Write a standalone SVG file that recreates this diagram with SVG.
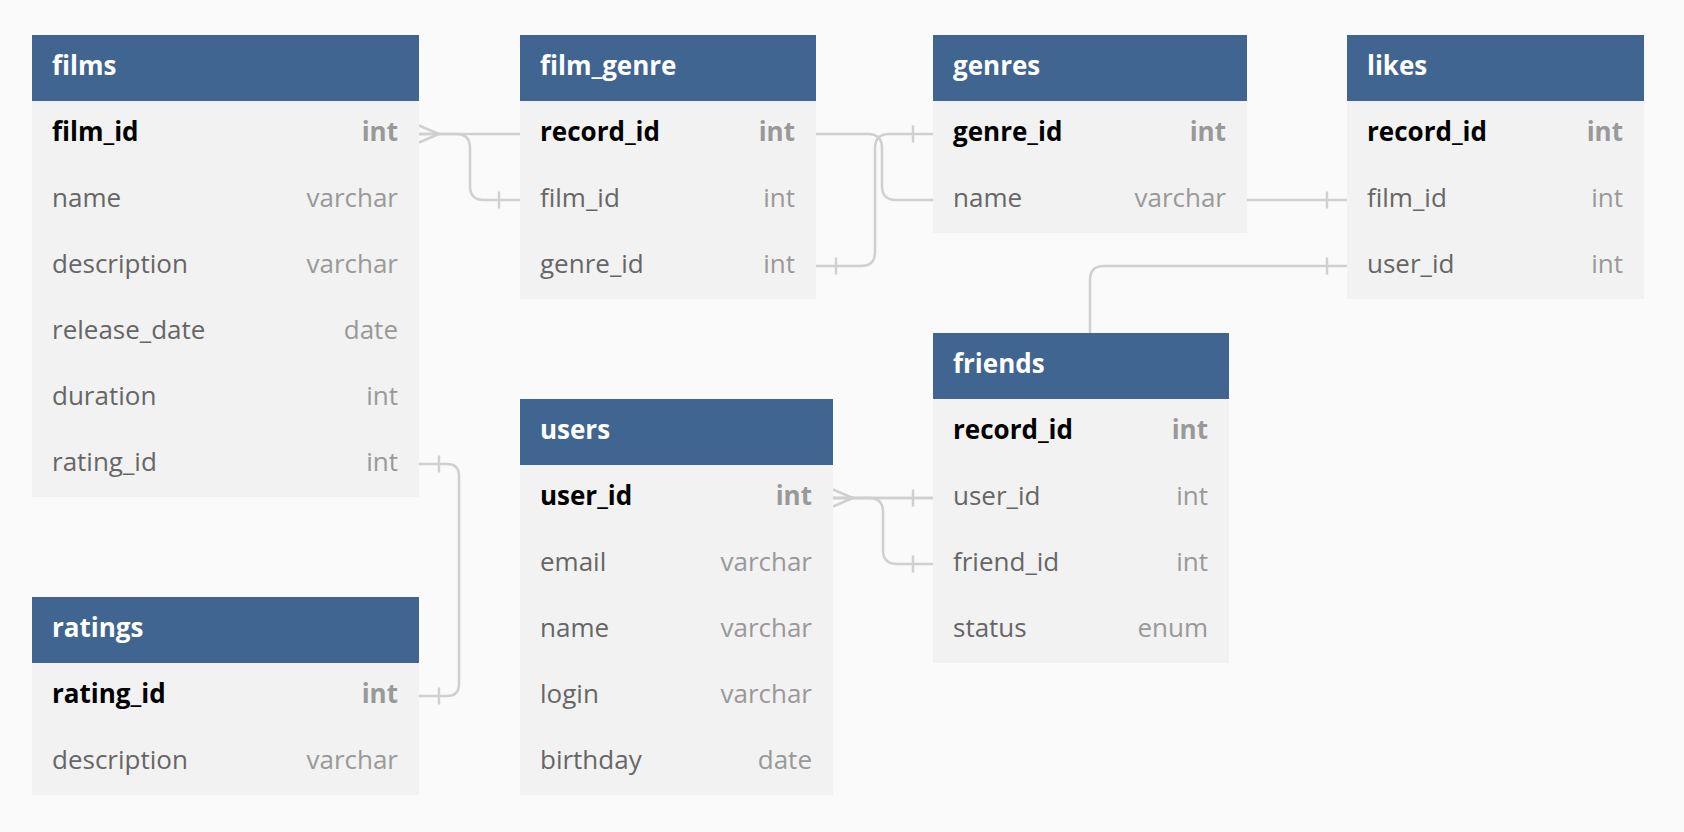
<svg xmlns="http://www.w3.org/2000/svg" width="1684" height="832" viewBox="0 0 1684 832">
<style>
.bg{fill:#FAFAFA}
.hd{fill:#3F6590}
.bd{fill:#F2F2F2}
text{font-family:"Open Sans","Liberation Sans",sans-serif;font-size:26px}
.tt{fill:#FFFFFF;font-weight:700}
.pk{fill:#000000;font-weight:700}
.pt{fill:#999999;font-weight:700;text-anchor:end}
.fn{fill:#666666}
.ft{fill:#999999;text-anchor:end}
.ln{fill:none;stroke:#D0D0D0;stroke-width:2.5}
</style>
<rect class="bg" x="0" y="0" width="1684" height="832"/>
<g id="connectors" class="ln">
  <!-- films.film_id -> film_genre.film_id -->
  <path d="M419,134 H456 Q470,134 470,148 V186 Q470,200 484,200 H520"/>
  <path d="M499,191.5 V208.5"/>
  <!-- films.film_id crow -->
  <path d="M419,125.5 L439,134 L419,142.5"/>
  <!-- films.film_id -> likes.film_id -->
  <path d="M419,134 H868 Q882,134 882,148 V186 Q882,200 896,200 H1347"/>
  <path d="M1327,191.5 V208.5"/>
  <!-- film_genre.genre_id -> genres.genre_id -->
  <path d="M816,266 H861 Q875,266 875,252 V148 Q875,134 889,134 H933"/>
  <path d="M836,257.5 V274.5"/>
  <path d="M913,125.5 V142.5"/>
  <!-- films.rating_id -> ratings.rating_id -->
  <path d="M419,464 H447 Q459,464 459,476 V684 Q459,696 447,696 H419"/>
  <path d="M439,455.5 V472.5"/>
  <path d="M439,687.5 V704.5"/>
  <!-- users.user_id -> friends.user_id -->
  <path d="M833,498 H933"/>
  <path d="M833,489.5 L853,498 L833,506.5"/>
  <path d="M913,489.5 V506.5"/>
  <!-- users.user_id -> friends.friend_id -->
  <path d="M833,498 H869 Q883,498 883,512 V550 Q883,564 897,564 H933"/>
  <path d="M913,555.5 V572.5"/>
  <!-- likes.user_id -> users.user_id -->
  <path d="M1347,266 H1104 Q1090,266 1090,280 V486 Q1090,498 1078,498 H833"/>
  <path d="M1327,257.5 V274.5"/>
</g>
<g id="films">
  <rect class="hd" x="32" y="35" width="387" height="66"/>
  <rect class="bd" x="32" y="101" width="387" height="396"/>
  <text class="tt" x="52" y="75">films</text>
  <text class="pk" x="52" y="141">film_id</text><text class="pt" x="398" y="141">int</text>
  <text class="fn" x="52" y="207">name</text><text class="ft" x="398" y="207">varchar</text>
  <text class="fn" x="52" y="273">description</text><text class="ft" x="398" y="273">varchar</text>
  <text class="fn" x="52" y="339">release_date</text><text class="ft" x="398" y="339">date</text>
  <text class="fn" x="52" y="405">duration</text><text class="ft" x="398" y="405">int</text>
  <text class="fn" x="52" y="471">rating_id</text><text class="ft" x="398" y="471">int</text>
</g>
<g id="ratings">
  <rect class="hd" x="32" y="597" width="387" height="66"/>
  <rect class="bd" x="32" y="663" width="387" height="132"/>
  <text class="tt" x="52" y="637">ratings</text>
  <text class="pk" x="52" y="703">rating_id</text><text class="pt" x="398" y="703">int</text>
  <text class="fn" x="52" y="769">description</text><text class="ft" x="398" y="769">varchar</text>
</g>
<g id="film_genre">
  <rect class="hd" x="520" y="35" width="296" height="66"/>
  <rect class="bd" x="520" y="101" width="296" height="198"/>
  <text class="tt" x="540" y="75">film_genre</text>
  <text class="pk" x="540" y="141">record_id</text><text class="pt" x="795" y="141">int</text>
  <text class="fn" x="540" y="207">film_id</text><text class="ft" x="795" y="207">int</text>
  <text class="fn" x="540" y="273">genre_id</text><text class="ft" x="795" y="273">int</text>
</g>
<g id="genres">
  <rect class="hd" x="933" y="35" width="314" height="66"/>
  <rect class="bd" x="933" y="101" width="314" height="132"/>
  <text class="tt" x="953" y="75">genres</text>
  <text class="pk" x="953" y="141">genre_id</text><text class="pt" x="1226" y="141">int</text>
  <text class="fn" x="953" y="207">name</text><text class="ft" x="1226" y="207">varchar</text>
</g>
<g id="likes">
  <rect class="hd" x="1347" y="35" width="297" height="66"/>
  <rect class="bd" x="1347" y="101" width="297" height="198"/>
  <text class="tt" x="1367" y="75">likes</text>
  <text class="pk" x="1367" y="141">record_id</text><text class="pt" x="1623" y="141">int</text>
  <text class="fn" x="1367" y="207">film_id</text><text class="ft" x="1623" y="207">int</text>
  <text class="fn" x="1367" y="273">user_id</text><text class="ft" x="1623" y="273">int</text>
</g>
<g id="friends">
  <rect class="hd" x="933" y="333" width="296" height="66"/>
  <rect class="bd" x="933" y="399" width="296" height="264"/>
  <text class="tt" x="953" y="373">friends</text>
  <text class="pk" x="953" y="439">record_id</text><text class="pt" x="1208" y="439">int</text>
  <text class="fn" x="953" y="505">user_id</text><text class="ft" x="1208" y="505">int</text>
  <text class="fn" x="953" y="571">friend_id</text><text class="ft" x="1208" y="571">int</text>
  <text class="fn" x="953" y="637">status</text><text class="ft" x="1208" y="637">enum</text>
</g>
<g id="users">
  <rect class="hd" x="520" y="399" width="313" height="66"/>
  <rect class="bd" x="520" y="465" width="313" height="330"/>
  <text class="tt" x="540" y="439">users</text>
  <text class="pk" x="540" y="505">user_id</text><text class="pt" x="812" y="505">int</text>
  <text class="fn" x="540" y="571">email</text><text class="ft" x="812" y="571">varchar</text>
  <text class="fn" x="540" y="637">name</text><text class="ft" x="812" y="637">varchar</text>
  <text class="fn" x="540" y="703">login</text><text class="ft" x="812" y="703">varchar</text>
  <text class="fn" x="540" y="769">birthday</text><text class="ft" x="812" y="769">date</text>
</g>
</svg>
